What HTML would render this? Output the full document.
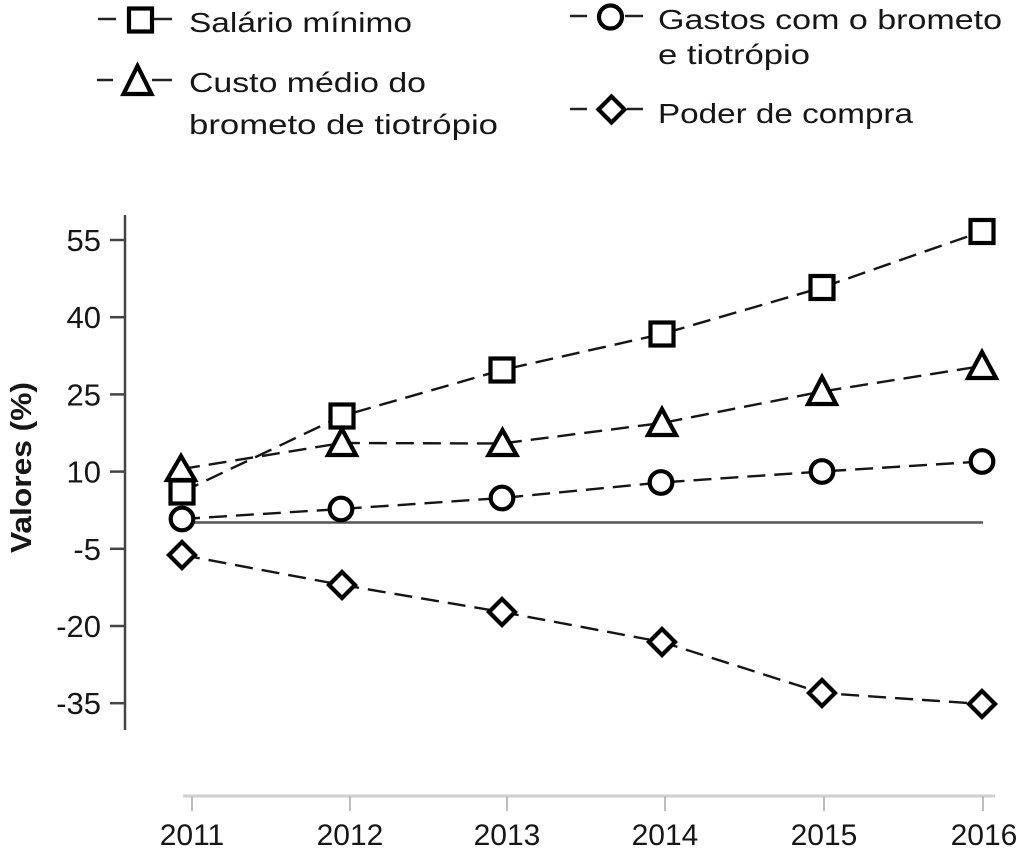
<!DOCTYPE html>
<html>
<head>
<meta charset="utf-8">
<style>
  html, body { margin: 0; padding: 0; background: #ffffff; }
  svg { display: block; }
  text { font-family: "Liberation Sans", "DejaVu Sans", sans-serif; fill: #161616; }
</style>
</head>
<body>
<svg width="1024" height="848" viewBox="0 0 1024 848" xmlns="http://www.w3.org/2000/svg">
  <rect x="0" y="0" width="1024" height="848" fill="#ffffff"/>

  <!-- ===== Legend ===== -->
  <g stroke="#222" stroke-width="2.5" fill="none">
    <line x1="98" y1="19" x2="116" y2="19"/>
    <line x1="154" y1="19" x2="172" y2="19"/>
    <line x1="97" y1="80" x2="113" y2="80"/>
    <line x1="152" y1="80" x2="172" y2="80"/>
    <line x1="570" y1="16" x2="587" y2="16"/>
    <line x1="625" y1="16" x2="643" y2="16"/>
    <line x1="570" y1="109" x2="587" y2="109"/>
    <line x1="627" y1="109" x2="643" y2="109"/>
  </g>
  <g stroke="#000" stroke-width="4.2" fill="#fff" stroke-linejoin="miter">
    <rect x="129" y="8.5" width="23" height="23"/>
    <polygon points="137.5,66 123.5,94 151.5,94"/>
    <circle cx="610.5" cy="17" r="11.5"/>
    <polygon points="611.5,96.5 624.5,109.5 611.5,122.5 598.5,109.5"/>
  </g>
  <g font-size="28">
    <text x="189" y="32" textLength="223" lengthAdjust="spacingAndGlyphs">Salário mínimo</text>
    <text x="189" y="92" textLength="237" lengthAdjust="spacingAndGlyphs">Custo médio do</text>
    <text x="189" y="134" textLength="309" lengthAdjust="spacingAndGlyphs">brometo de tiotrópio</text>
    <text x="658" y="29" textLength="344" lengthAdjust="spacingAndGlyphs">Gastos com o brometo</text>
    <text x="658" y="64" textLength="152" lengthAdjust="spacingAndGlyphs">e tiotrópio</text>
    <text x="658" y="123" textLength="255" lengthAdjust="spacingAndGlyphs">Poder de compra</text>
  </g>

  <!-- ===== Y axis ===== -->
  <g stroke="#444" stroke-width="2.5">
    <line x1="125" y1="215" x2="125" y2="730"/>
    <line x1="110" y1="240" x2="125" y2="240"/>
    <line x1="110" y1="317.2" x2="125" y2="317.2"/>
    <line x1="110" y1="394.4" x2="125" y2="394.4"/>
    <line x1="110" y1="471.6" x2="125" y2="471.6"/>
    <line x1="110" y1="548.8" x2="125" y2="548.8"/>
    <line x1="110" y1="626" x2="125" y2="626"/>
    <line x1="110" y1="703.2" x2="125" y2="703.2"/>
  </g>
  <g font-size="31" text-anchor="end">
    <text x="101" y="251">55</text>
    <text x="101" y="328.2">40</text>
    <text x="101" y="405.4">25</text>
    <text x="101" y="482.6">10</text>
    <text x="101" y="559.8">-5</text>
    <text x="101" y="637">-20</text>
    <text x="101" y="714.2">-35</text>
  </g>
  <text x="0" y="0" font-size="29" font-weight="bold" text-anchor="middle"
        transform="translate(31,467.5) rotate(-90)" textLength="171" lengthAdjust="spacingAndGlyphs">Valores (%)</text>

  <!-- ===== X axis ===== -->
  <g stroke="#cfcfcf" stroke-width="3">
    <line x1="183" y1="796" x2="995" y2="796"/>
  </g>
  <g stroke="#bdbdbd" stroke-width="2">
    <line x1="192" y1="796" x2="192" y2="811"/>
    <line x1="350" y1="796" x2="350" y2="811"/>
    <line x1="507" y1="796" x2="507" y2="811"/>
    <line x1="665" y1="796" x2="665" y2="811"/>
    <line x1="824" y1="796" x2="824" y2="811"/>
    <line x1="983" y1="796" x2="983" y2="811"/>
  </g>
  <g font-size="30" text-anchor="middle">
    <text x="192" y="845">2011</text>
    <text x="350" y="845">2012</text>
    <text x="507" y="845">2013</text>
    <text x="665" y="845">2014</text>
    <text x="824" y="845">2015</text>
    <text x="984" y="845">2016</text>
  </g>

  <!-- ===== Zero line ===== -->
  <line x1="182" y1="522.5" x2="983" y2="522.5" stroke="#555" stroke-width="2.5"/>

  <!-- ===== Series lines ===== -->
  <g fill="none" stroke="#151515" stroke-width="2.4" stroke-dasharray="18 9">
    <polyline points="182,492 342,416 502,370 662,334 822,287.5 982,231.5"/>
    <polyline points="182,469 342,443 502,443.5 662,423 822,391.5 982,366"/>
    <polyline points="182,519 341,509 502,498 661,482.5 822,471.5 982,461.5"/>
    <polyline points="182,555 342,585 502,612 662,642 822,693 982,704"/>
  </g>

  <!-- ===== Markers ===== -->
  <g stroke="#000" stroke-width="4.2" fill="#fff" stroke-linejoin="miter">
    <!-- squares -->
    <rect x="170.5" y="480.5" width="23" height="23"/>
    <rect x="330.5" y="404.5" width="23" height="23"/>
    <rect x="490.5" y="358.5" width="23" height="23"/>
    <rect x="650.5" y="322.5" width="23" height="23"/>
    <rect x="810.5" y="276" width="23" height="23"/>
    <rect x="970.5" y="220" width="23" height="23"/>
    <!-- triangles -->
    <polygon points="181,456 167,480 195,480"/>
    <polygon points="342,429 328,455 356,455"/>
    <polygon points="502.5,430 488.5,455 516.5,455"/>
    <polygon points="662,409 648,435 676,435"/>
    <polygon points="822,377 808,404 836,404"/>
    <polygon points="982,352 968,378 996,378"/>
    <!-- circles -->
    <circle cx="182" cy="519" r="11.3"/>
    <circle cx="341" cy="509" r="11.3"/>
    <circle cx="502" cy="498" r="11.3"/>
    <circle cx="661" cy="482.5" r="11.3"/>
    <circle cx="822" cy="471.5" r="11.3"/>
    <circle cx="982" cy="461.5" r="11.3"/>
    <!-- diamonds -->
    <polygon points="182,542 195,555 182,568 169,555"/>
    <polygon points="342,572 355,585 342,598 329,585"/>
    <polygon points="502,599 515,612 502,625 489,612"/>
    <polygon points="662,629 675,642 662,655 649,642"/>
    <polygon points="822,680 835,693 822,706 809,693"/>
    <polygon points="982,691 995,704 982,717 969,704"/>
  </g>
</svg>
</body>
</html>
